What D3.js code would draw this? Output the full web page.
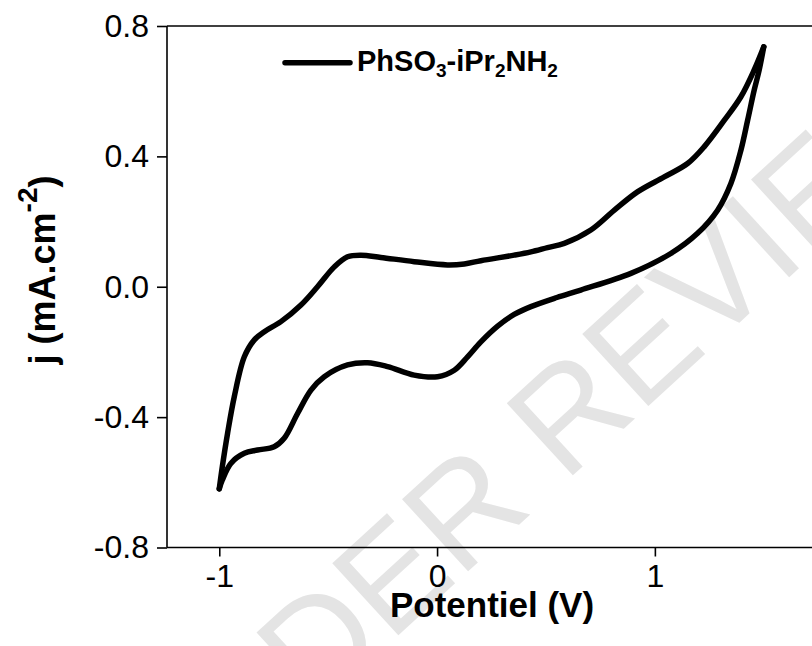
<!DOCTYPE html>
<html>
<head>
<meta charset="utf-8">
<script src="https://cdn.jsdelivr.net/npm/d3@7"></script>
<style>
  html, body { margin: 0; padding: 0; background: #fff; }
  svg { display: block; }
  text { font-family: "Liberation Sans", Arial, sans-serif; }
</style>
</head>
<body>
<svg id="chart" width="812" height="646"></svg>
<script>
// ---- data ----
const seriesName = "PhSO3-iPr2NH2";
const forwardV = [-1.0, -0.986, -0.962, -0.931, -0.885, -0.839, -0.793, -0.717, -0.625, -0.549, -0.472, -0.411, -0.350, -0.258, -0.105, 0.048, 0.125, 0.201, 0.354, 0.431, 0.507, 0.584, 0.706, 0.814, 0.920, 1.043, 1.150, 1.227, 1.319, 1.395, 1.456, 1.50];
const forwardJ = [-0.62, -0.552, -0.45, -0.337, -0.215, -0.163, -0.138, -0.107, -0.056, 0.0, 0.061, 0.092, 0.097, 0.090, 0.077, 0.067, 0.070, 0.080, 0.097, 0.107, 0.12, 0.133, 0.174, 0.235, 0.291, 0.337, 0.378, 0.43, 0.511, 0.583, 0.665, 0.736];
const reverseV = [1.50, 1.479, 1.456, 1.426, 1.395, 1.349, 1.288, 1.196, 1.073, 0.890, 0.660, 0.550, 0.431, 0.354, 0.278, 0.200, 0.140, 0.079, 0.002, -0.105, -0.227, -0.319, -0.411, -0.518, -0.579, -0.640, -0.702, -0.748, -0.824, -0.885, -0.947, -0.986, -1.0];
const reverseJ = [0.736, 0.665, 0.603, 0.511, 0.419, 0.317, 0.235, 0.164, 0.102, 0.041, -0.010, -0.033, -0.061, -0.085, -0.121, -0.170, -0.215, -0.256, -0.276, -0.271, -0.245, -0.233, -0.240, -0.276, -0.317, -0.388, -0.465, -0.491, -0.501, -0.511, -0.542, -0.593, -0.62];
const xTicks = [-1, 0, 1];
const yTicks = [-0.8, -0.4, 0.0, 0.4, 0.8];
const xDomain = [-1.24, 1.75];
const yDomain = [-0.8, 0.8];

// ---- layout ----
const svg = d3.select("#chart");
const plotLeft = 167, plotTop = 26, plotBottom = 547.5;
const x = d3.scaleLinear().domain(xDomain).range([plotLeft, plotLeft + (xDomain[1] - xDomain[0]) * 217.8]);
const y = d3.scaleLinear().domain(yDomain).range([plotBottom, plotTop]);
const hyphen = s => s.replace("\u2212", "-");

// watermark (behind)
svg.append("text")
  .attr("transform", "translate(570,478) rotate(-42.5)")
  .attr("text-anchor", "middle")
  .attr("font-size", 142)
  .attr("fill", "#e4e4e4")
  .text("UNDER REVIEW");

// top spine
svg.append("line")
  .attr("x1", plotLeft).attr("x2", 812)
  .attr("y1", plotTop).attr("y2", plotTop)
  .attr("stroke", "#000").attr("stroke-width", 1.6);

// axes
const xAxis = d3.axisBottom(x).tickValues(xTicks).tickSize(9).tickPadding(8)
  .tickFormat(d => hyphen(d3.format("d")(d)));
const gx = svg.append("g").attr("transform", `translate(0,${plotBottom})`).call(xAxis);
const yAxis = d3.axisLeft(y).tickValues(yTicks).tickSize(10).tickPadding(8)
  .tickFormat(d => hyphen(d3.format(".1f")(d)));
const gy = svg.append("g").attr("transform", `translate(${plotLeft},0)`).call(yAxis);

[gx, gy].forEach(g => {
  g.select(".domain").attr("stroke", "#000").attr("stroke-width", 1.6);
  g.selectAll(".tick line").attr("stroke", "#000").attr("stroke-width", 1.6);
  g.selectAll(".tick text")
    .attr("font-family", "'Liberation Sans', Arial, sans-serif")
    .attr("font-size", 32).attr("fill", "#000");
});
gx.select(".domain").attr("d", `M${plotLeft},0H812`);
gy.select(".domain").attr("d", `M0,${plotBottom}V${plotTop}`);
gx.selectAll(".tick text").attr("dy", "0.71em");

// axis titles
svg.append("text")
  .attr("x", 492).attr("y", 617)
  .attr("text-anchor", "middle")
  .attr("font-size", 35).attr("font-weight", "bold")
  .text("Potentiel (V)");

const yl = svg.append("text")
  .attr("transform", "translate(55,270) rotate(-90)")
  .attr("text-anchor", "middle")
  .attr("font-size", 36).attr("font-weight", "bold");
yl.append("tspan").text("j (mA.cm");
yl.append("tspan").attr("font-size", 28).attr("dy", -18).text("-2");
yl.append("tspan").attr("dy", 18).text(")");

// curves
const line = d3.line().x(d => x(d[0])).y(d => y(d[1])).curve(d3.curveCatmullRom.alpha(0.5));
const fwd = forwardV.map((v, i) => [v, forwardJ[i]]);
const rev = reverseV.map((v, i) => [v, reverseJ[i]]);
[fwd, rev].forEach(pts => {
  svg.append("path")
    .attr("d", line(pts))
    .attr("fill", "none").attr("stroke", "#000")
    .attr("stroke-width", 5.5)
    .attr("stroke-linejoin", "round").attr("stroke-linecap", "round");
});

// legend
svg.append("line")
  .attr("x1", 285).attr("x2", 350).attr("y1", 62.7).attr("y2", 62.7)
  .attr("stroke", "#000").attr("stroke-width", 5.5).attr("stroke-linecap", "round");
const lt = svg.append("text")
  .attr("x", 357).attr("y", 71)
  .attr("font-size", 29).attr("font-weight", "bold");
const parts = seriesName.match(/[A-Za-z\-]+|\d+/g);
parts.forEach((p, i) => {
  if (/^\d+$/.test(p)) {
    lt.append("tspan").attr("font-size", 19).attr("dy", 6).text(p);
  } else {
    lt.append("tspan").attr("dy", i > 0 ? -6 : 0).text(p);
  }
});
</script>
</body>
</html>
